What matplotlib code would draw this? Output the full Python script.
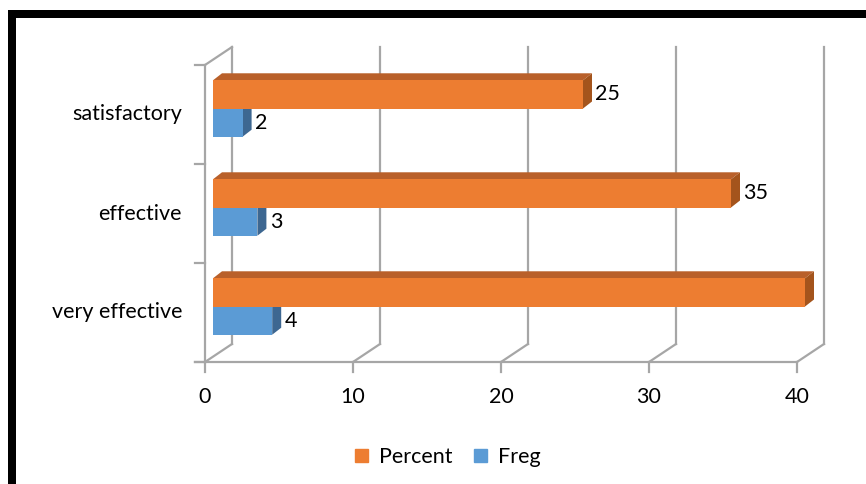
import matplotlib
matplotlib.use("Agg")
import matplotlib.pyplot as plt
from matplotlib.patches import Polygon, Rectangle, Patch

categories = ["very effective", "effective", "satisfactory"]
percent = [40, 35, 25]
freq = [4, 3, 2]
xticks = [0, 10, 20, 30, 40]

ORANGE = "#ED7D31"
ORANGE_TOP = "#B9602A"
ORANGE_SIDE = "#A4541C"
BLUE = "#5B9BD5"
BLUE_TOP = "#4A7FB0"
BLUE_SIDE = "#3D6791"
GRID = "#A6A6A6"
FS = 15.5

plt.rcParams["font.family"] = ["Lato", "DejaVu Sans"]

W, H = 866, 484
fig = plt.figure(figsize=(W / 100, H / 100), dpi=100)
# front plane: x 0..40 -> px 205..797, y 0..3 -> px 362..65
ax = fig.add_axes([205 / W, (H - 362) / H, 592 / W, 297 / H])
ax.set_xlim(0, 40)
ax.set_ylim(0, 3)
ax.axis("off")

pxx = 40 / 592
pxy = 3 / 297
back = (27 * pxx, 18 * pxy)      # depth of the whole box
bar_off = (8 * pxx, 6 * pxy)     # front face of bars
bar_d = (9 * pxx, 7 * pxy)       # depth of a bar
h = 0.285

# back wall gridlines and floor diagonals
for t in xticks:
    ax.plot([t + back[0]] * 2, [back[1], 3 + back[1]], color=GRID, lw=1.6,
            clip_on=False, zorder=1)
    ax.plot([t, t + back[0]], [0, back[1]], color=GRID, lw=1.6,
            clip_on=False, zorder=1)
    ax.plot([t, t], [0, -10 * pxy], color=GRID, lw=1.6, clip_on=False, zorder=1)
    ax.text(t, -35 * pxy, str(t), ha="center", va="center", fontsize=FS)

# front floor line and left wall
ax.plot([-10 * pxx, 40], [0, 0], color=GRID, lw=1.6, clip_on=False, zorder=1)
ax.plot([0, 0], [0, 3], color=GRID, lw=1.6, clip_on=False, zorder=1)
ax.plot([0, back[0]], [3, 3 + back[1]], color=GRID, lw=1.6, clip_on=False, zorder=1)
for k in range(4):
    ax.plot([-10 * pxx, 0], [k, k], color=GRID, lw=1.6, clip_on=False, zorder=1)

for i, cat in enumerate(categories):
    ax.text(-23 * pxx, i + 0.5, cat, ha="right", va="center", fontsize=FS)


def bar3d(x1, y0, y1, front, top, side):
    ox, oy = bar_off
    dx, dy = bar_d
    xa, xb = ox, x1 + ox
    ya, yb = y0 + oy, y1 + oy
    ax.add_patch(Polygon([(xa, yb), (xb, yb), (xb + dx, yb + dy), (xa + dx, yb + dy)],
                         closed=True, fc=top, ec="none", zorder=3, clip_on=False))
    ax.add_patch(Polygon([(xb, ya), (xb, yb), (xb + dx, yb + dy), (xb + dx, ya + dy)],
                         closed=True, fc=side, ec="none", zorder=3, clip_on=False))
    ax.add_patch(Polygon([(xa, ya), (xb, ya), (xb, yb), (xa, yb)],
                         closed=True, fc=front, ec="none", zorder=4, clip_on=False))
    ax.annotate(str(x1), (xb + dx, (ya + yb) / 2), xytext=(2.5, 0),
                textcoords="offset points", ha="left", va="center",
                fontsize=FS, zorder=5)


for i in range(len(categories)):
    c = i + 0.5
    bar3d(freq[i], c - h, c, BLUE, BLUE_TOP, BLUE_SIDE)
for i in range(len(categories)):
    c = i + 0.5
    bar3d(percent[i], c, c + h, ORANGE, ORANGE_TOP, ORANGE_SIDE)

handles = [Patch(color=ORANGE, label="Percent"), Patch(color=BLUE, label="Freg")]
fig.legend(handles=handles, loc="center", bbox_to_anchor=(448 / W, 1 - 457 / H),
           ncol=2, frameon=False, fontsize=FS, handlelength=0.6, handleheight=0.6,
           handletextpad=0.5, columnspacing=1.0)

# black frame on the left and top
fig.patches.append(Rectangle((8 / W, 0), 8 / W, 1 - 10 / H, transform=fig.transFigure,
                             fc="black", ec="none"))
fig.patches.append(Rectangle((8 / W, 1 - 18 / H), 1, 8 / H, transform=fig.transFigure,
                             fc="black", ec="none"))

fig.savefig("out.png", dpi=100)
